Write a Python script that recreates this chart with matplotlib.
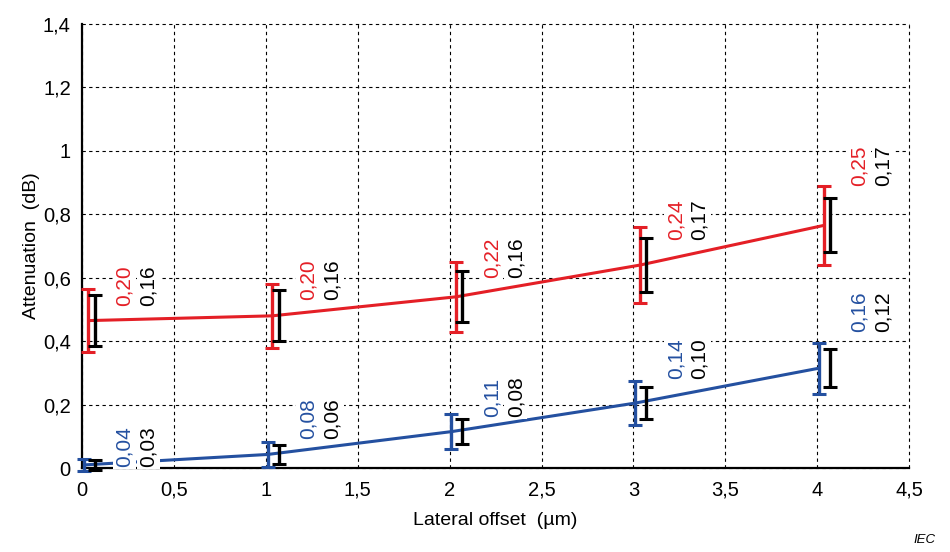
import matplotlib
matplotlib.use("Agg")
import matplotlib.pyplot as plt
from matplotlib.ticker import FuncFormatter, MultipleLocator

plt.rcParams["font.family"] = ["Liberation Sans", "DejaVu Sans"]

# lateral offset (um) and attenuation (dB)
offsets = [0, 1, 2, 3, 4]
red_mean = [0.465, 0.48, 0.54, 0.64, 0.765]
red_range = [0.20, 0.20, 0.22, 0.24, 0.25]
red_black_range = [0.16, 0.16, 0.16, 0.17, 0.17]
blue_mean = [0.01, 0.043, 0.115, 0.205, 0.315]
blue_range = [0.04, 0.08, 0.11, 0.14, 0.16]
blue_black_range = [0.03, 0.06, 0.08, 0.10, 0.12]

RED = "#e41f26"
BLUE = "#2450a0"
BLACK = "#000000"

# label placement (layout only)
red_lbl_dy = [0.045, 0.05, 0.06, 0.08, 0.125]
blue_lbl_dy = [-0.007, 0.05, 0.045, 0.075, 0.115]


def comma(v, pos):
    return f"{v:g}".replace(".", ",")


def two(v):
    return f"{v:.2f}".replace(".", ",")


fig = plt.figure(figsize=(9.5, 5.52), dpi=100)
ax = fig.add_axes([0.0863, 0.152, 0.8707, 0.8045])
ax.set_xlim(0, 4.5)
ax.set_ylim(0, 1.4)
ax.xaxis.set_major_locator(MultipleLocator(0.5))
ax.yaxis.set_major_locator(MultipleLocator(0.2))
ax.xaxis.set_major_formatter(FuncFormatter(comma))
ax.yaxis.set_major_formatter(FuncFormatter(comma))
ax.tick_params(length=0, labelsize=14.5)
ax.tick_params(axis="x", pad=9)
ax.tick_params(axis="y", pad=8)
ax.grid(True, color="black", ls=(0, (3, 3)), lw=0.8)
for g in ax.get_xgridlines() + ax.get_ygridlines():
    g.set_clip_on(False)
ax.spines["top"].set_visible(False)
ax.spines["right"].set_visible(False)
ax.spines["left"].set_linewidth(1.6)
ax.spines["bottom"].set_linewidth(1.6)
ax.set_axisbelow(True)

ekw = dict(fmt="none", capsize=5, elinewidth=2.4, capthick=2.2, zorder=5, clip_on=False)

for mean, rng, brng, col, dx, dys in [
        (red_mean, red_range, red_black_range, RED, 0.035, red_lbl_dy),
        (blue_mean, blue_range, blue_black_range, BLUE, 0.01, blue_lbl_dy)]:
    xs = [o + dx for o in offsets]
    ax.plot(xs, mean, color=col, lw=2.2, zorder=3, solid_capstyle="butt")
    ax.errorbar(xs, mean, yerr=[r / 2 for r in rng], ecolor=col, **ekw)
    ax.errorbar([o + 0.07 for o in offsets], mean, yerr=[r / 2 for r in brng],
                ecolor=BLACK, **ekw)
    for o, m, r, b, dy in zip(offsets, mean, rng, brng, dys):
        bb = dict(facecolor="white", edgecolor="none", pad=1.5)
        ax.text(o + 0.23, m + dy, two(r), rotation=90, ha="center", va="bottom",
                fontsize=15, color=col, zorder=4, bbox=bb)
        ax.text(o + 0.36, m + dy, two(b), rotation=90, ha="center", va="bottom",
                fontsize=15, color=BLACK, zorder=4, bbox=bb)

ax.set_xlabel("Lateral offset  (\u00b5m)", fontsize=14, labelpad=9)
ax.set_ylabel("Attenuation  (dB)", fontsize=14, labelpad=2)
fig.text(0.985, 0.01, "IEC", fontsize=9.5, style="italic", ha="right", va="bottom")

fig.savefig("out.png", dpi=100)
